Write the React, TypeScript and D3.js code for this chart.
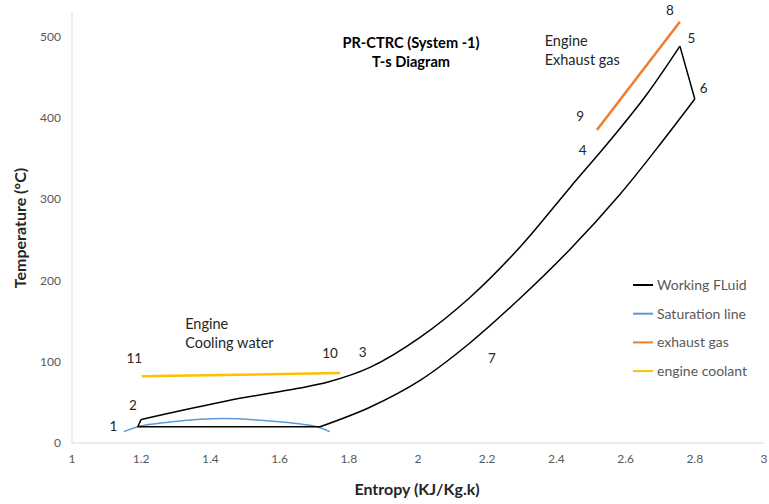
import * as d3 from 'd3';
import { useEffect, useRef } from 'react';

// Working fluid cycle (entropy kJ/kg.K, temperature °C)
const fluidLow = [[1.19, 20], [1.2, 29]];
const fluidHeat = [
  [1.2, 29], [1.45, 52], [1.65, 67], [1.74, 75], [1.861, 93], [2.006, 130],
  [2.15, 179], [2.295, 241], [2.439, 314], [2.555, 372], [2.66, 428], [2.757, 488],
];
const fluidTurbine = [[2.757, 488], [2.8, 423]];
const fluidCool = [
  [2.8, 423], [2.69, 362], [2.584, 306], [2.439, 238], [2.295, 178], [2.15, 123],
  [2.006, 77], [1.861, 44], [1.717, 20],
];
const fluidCondense = [[1.717, 20], [1.19, 20]];

const saturation = [
  [1.15, 14], [1.19, 20], [1.29, 26], [1.437, 30], [1.6, 26], [1.708, 20], [1.745, 14],
];
const exhaustGas = [[2.517, 385], [2.757, 518]];
const engineCoolant = [[1.202, 82], [1.775, 86]];

const xTicks = [1, 1.2, 1.4, 1.6, 1.8, 2, 2.2, 2.4, 2.6, 2.8, 3];
const yTicks = [0, 100, 200, 300, 400, 500];

const stateLabels = [
  { t: '1', s: 1.12, T: 21 },
  { t: '2', s: 1.176, T: 46 },
  { t: '11', s: 1.18, T: 104 },
  { t: '10', s: 1.746, T: 110 },
  { t: '3', s: 1.84, T: 112 },
  { t: '7', s: 2.214, T: 104 },
  { t: '4', s: 2.476, T: 360 },
  { t: '9', s: 2.469, T: 402 },
  { t: '8', s: 2.728, T: 532 },
  { t: '5', s: 2.79, T: 498 },
  { t: '6', s: 2.826, T: 436 },
];
const notes = [
  { lines: ['Engine', 'Cooling water'], s: 1.327, T: 140 },
  { lines: ['Engine', 'Exhaust gas'], s: 2.366, T: 488 },
];

const legend = [
  { name: 'Working FLuid', color: '#000000' },
  { name: 'Saturation line', color: '#5b9bd5' },
  { name: 'exhaust gas', color: '#ed7d31' },
  { name: 'engine coolant', color: '#ffc000' },
];

const App = () => {
  const ref = useRef<SVGSVGElement>(null);
  const width = 769;
  const height = 504;

  useEffect(() => {
    const svg = d3.select(ref.current);
    svg.selectAll('*').remove();
    const font = 'Lato, "Open Sans", sans-serif';

    const x = d3.scaleLinear().domain([1, 3]).range([72, 764]);
    const y = d3.scaleLinear().domain([0, 530]).range([443, 12]);

    // axes
    svg.append('line').attr('x1', x(1)).attr('x2', x(1)).attr('y1', y(530)).attr('y2', y(0))
      .attr('stroke', '#d9d9d9');
    svg.append('line').attr('x1', x(1)).attr('x2', x(3)).attr('y1', y(0)).attr('y2', y(0))
      .attr('stroke', '#d9d9d9');

    svg.append('g').selectAll('text').data(yTicks).enter().append('text')
      .attr('x', x(1) - 11).attr('y', d => y(d)).attr('dy', '0.35em')
      .attr('text-anchor', 'end').attr('font-family', font).attr('font-size', 12)
      .attr('fill', '#595959').text(d => d);

    svg.append('g').selectAll('text').data(xTicks).enter().append('text')
      .attr('x', d => x(d)).attr('y', y(0) + 20)
      .attr('text-anchor', 'middle').attr('font-family', font).attr('font-size', 12)
      .attr('fill', '#595959').text(d => d);

    svg.append('text').attr('x', 417).attr('y', 495).attr('text-anchor', 'middle')
      .attr('font-family', font).attr('font-size', 16).attr('font-weight', 'bold')
      .attr('fill', '#262626').text('Entropy (KJ/Kg.k)');
    svg.append('text').attr('transform', 'translate(26,228) rotate(-90)').attr('text-anchor', 'middle')
      .attr('font-family', font).attr('font-size', 16).attr('font-weight', 'bold')
      .attr('fill', '#262626').text('Temperature (°C)');

    // title
    const title = svg.append('text').attr('text-anchor', 'middle').attr('font-family', font)
      .attr('font-size', 14.6).attr('font-weight', 'bold').attr('fill', '#000');
    title.append('tspan').attr('x', 411).attr('y', 48).text('PR-CTRC (System -1)');
    title.append('tspan').attr('x', 411).attr('y', 67).text('T-s Diagram');

    const straight = d3.line<number[]>().x(d => x(d[0])).y(d => y(d[1]));
    const smooth = d3.line<number[]>().x(d => x(d[0])).y(d => y(d[1])).curve(d3.curveCatmullRom.alpha(0.5));

    const draw = (pts: number[][], color: string, w: number, curved: boolean) =>
      svg.append('path').datum(pts).attr('d', curved ? smooth : straight)
        .attr('fill', 'none').attr('stroke', color).attr('stroke-width', w)
        .attr('stroke-linejoin', 'round');

    draw(saturation, '#5b9bd5', 1.5, true);
    draw(engineCoolant, '#ffc000', 2.5, false);
    draw(exhaustGas, '#ed7d31', 2.5, false);
    draw(fluidLow, '#000', 1.5, false);
    draw(fluidHeat, '#000', 1.5, true);
    draw(fluidTurbine, '#000', 1.5, false);
    draw(fluidCool, '#000', 1.5, true);
    draw(fluidCondense, '#000', 1.5, false);

    // state point labels
    svg.append('g').selectAll('text').data(stateLabels).enter().append('text')
      .attr('x', d => x(d.s)).attr('y', d => y(d.T)).attr('dy', '0.35em')
      .attr('text-anchor', 'middle').attr('font-family', font).attr('font-size', 13.5)
      .attr('fill', '#262626').text(d => d.t);

    notes.forEach(n => {
      const t = svg.append('text').attr('font-family', font).attr('font-size', 14.5).attr('fill', '#262626');
      n.lines.forEach((l, i) => {
        t.append('tspan').attr('x', x(n.s)).attr('y', y(n.T) + i * 19).text(l);
      });
    });

    // legend
    const lg = svg.append('g').selectAll('g').data(legend).enter().append('g')
      .attr('transform', (d, i) => `translate(633,${285 + i * 28.7})`);
    lg.append('line').attr('x1', 0).attr('x2', 20).attr('stroke', d => d.color).attr('stroke-width', 2);
    lg.append('text').attr('x', 24).attr('dy', '0.35em').attr('font-family', font)
      .attr('font-size', 14).attr('fill', '#595959').text(d => d.name);
  }, []);

  return (
    <svg ref={ref} width={width} height={height}
      style={{ position: 'absolute', left: 0, top: 0, background: '#fff' }} />
  );
};

export default App;
